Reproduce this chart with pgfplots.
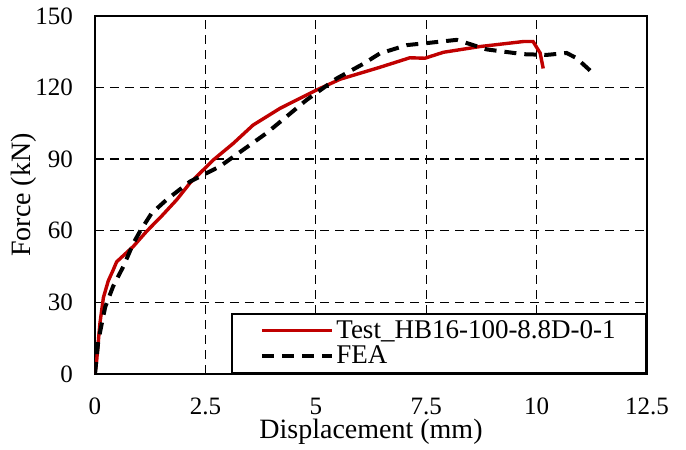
\documentclass[border=0pt]{standalone}
\usepackage{pgfplots}
\pgfplotsset{compat=1.18}
\usepackage{fontspec}
\setmainfont{Liberation Serif}
\definecolor{testred}{RGB}{192,0,0}
\begin{document}
\begin{tikzpicture}[font=\fontsize{12.5}{15}\selectfont]
\begin{axis}[
    scale only axis,
    width=276pt, height=179pt,
    xmin=0, xmax=12.5, ymin=0, ymax=150,
    xtick={0,2.5,5,7.5,10,12.5},
    ytick={0,30,60,90,120,150},
    /pgf/number format/assume math mode=true,
    axis line style={line width=1pt},
    tick align=inside, xtick pos=bottom, ytick pos=left,
    major tick length=3pt,
    tick style={black, line width=0.7pt},
    grid=major,
    major grid style={black, line width=0.7pt, dash pattern=on 4.5pt off 3pt},
    xticklabel style={yshift=-8.5pt},
    yticklabel style={xshift=-7.5pt},
    xlabel={Displacement (mm)},
    ylabel={Force (kN)},
    label style={font=\fontsize{14}{16}\selectfont},
    xlabel style={at={(axis description cs:0.5,-0.162)}, anchor=center},
    ylabel style={at={(axis description cs:-0.1286,0.5)}, anchor=center, rotate=0},
    legend style={at={(rel axis cs:1,0)}, anchor=south east, draw=black,
        line width=0.9pt, fill=white, inner xsep=14pt, inner ysep=2pt,
        row sep=0pt, font=\fontsize{13.5}{16}\selectfont,
        nodes={inner sep=1.2pt, line width=0.9pt},
        cells={anchor=west}},
    legend image code/.code={\draw[#1] (0pt,0pt) -- (35pt,0pt);},
]
\addplot[testred, line width=1.7pt] coordinates {
(0,0) (0.04,6) (0.11,21) (0.19,32) (0.3,39) (0.41,43.5) (0.49,47) (0.87,53.5)
(1.17,59.8) (1.5,66) (1.85,73) (2.15,80) (2.68,89.7) (3.13,96.6) (3.58,104.3)
(4.19,111.3) (4.64,115.5) (5.02,119) (5.55,123.5) (6.45,128.5) (7.13,132.5)
(7.47,132.3) (7.89,134.8) (8.72,137.2) (9.70,139.3) (9.92,139.3) (10.08,134.5)
(10.15,128)};
\addlegendentry{Test\_HB16-100-8.8D-0-1}
\addplot[black, line width=2pt, dash pattern=on 6pt off 4pt] coordinates {
(0,0) (0.075,14) (0.23,28) (0.41,36.7) (0.64,45) (0.87,54.8) (1.02,59.8)
(1.28,67.3) (1.62,73) (2.15,80.6) (2.83,87) (3.36,94) (3.89,101) (4.79,114.8)
(5.47,123.8) (6.08,130) (6.45,134.3) (7.06,137.8) (7.59,138.8) (8.19,140)
(8.87,136) (9.70,134) (10.23,133.7) (10.68,134.5) (10.9,132.4) (11.28,126)};
\addlegendentry{FEA}
\coordinate (bl) at (rel axis cs:0,0);
\end{axis}
\pgfresetboundingbox
\path ([shift={(-47.5pt,-38pt)}]bl) rectangle ++(343pt,225pt);
\end{tikzpicture}
\end{document}
